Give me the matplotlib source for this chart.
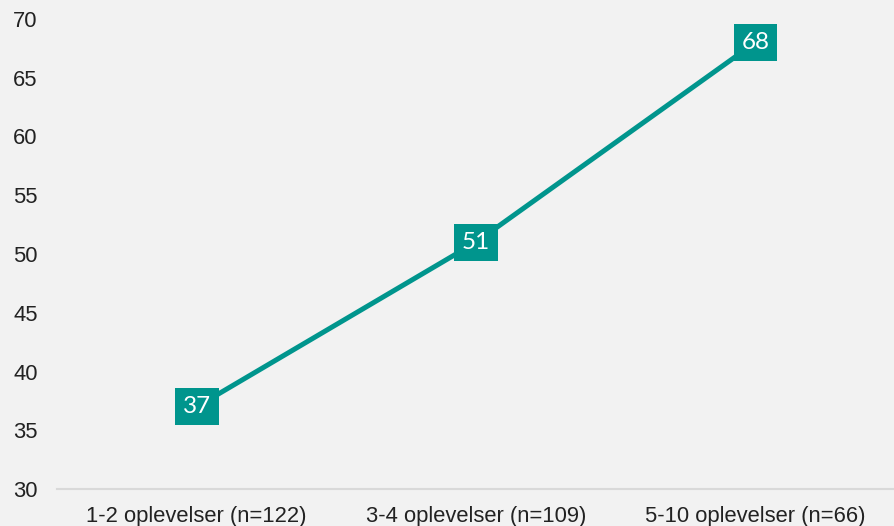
import matplotlib.pyplot as plt

categories = ["1-2 oplevelser (n=122)", "3-4 oplevelser (n=109)", "5-10 oplevelser (n=66)"]
values = [37, 51, 68]
yticks = [30, 35, 40, 45, 50, 55, 60, 65, 70]

teal = "#00958D"
bg = "#F2F2F2"

plt.rcParams['font.family'] = ['Liberation Sans', 'DejaVu Sans']

fig = plt.figure(figsize=(8.95, 5.26), dpi=100, facecolor=bg)
ax = fig.add_axes([0.0637, 0.0703, 0.9363, 0.8936], facecolor=bg)

x = list(range(len(categories)))
ax.plot(x, values, color=teal, linewidth=3.6, solid_capstyle='butt', zorder=2)

# value labels in boxes
for xi, v in zip(x, values):
    ax.text(xi, v, str(v), ha='center', va='center', color='white', fontsize=17.5,
            family=['Lato', 'DejaVu Sans'],
            bbox=dict(boxstyle='square,pad=0.32', facecolor=teal, edgecolor='none'), zorder=3)

ax.set_xlim(-0.5, len(categories) - 0.5)
ax.set_ylim(30, 70)
ax.set_yticks(yticks)
ax.set_xticks(x)
ax.set_xticklabels(categories)
ax.tick_params(axis='both', length=0, labelsize=15.8, colors='#222222')
ax.tick_params(axis='y', pad=14)
ax.tick_params(axis='x', pad=12)

for side in ['top', 'right', 'left']:
    ax.spines[side].set_visible(False)
ax.spines['bottom'].set_color('#D9D9D9')
ax.spines['bottom'].set_linewidth(1.5)

fig.savefig("out.png", dpi=100, facecolor=bg)
